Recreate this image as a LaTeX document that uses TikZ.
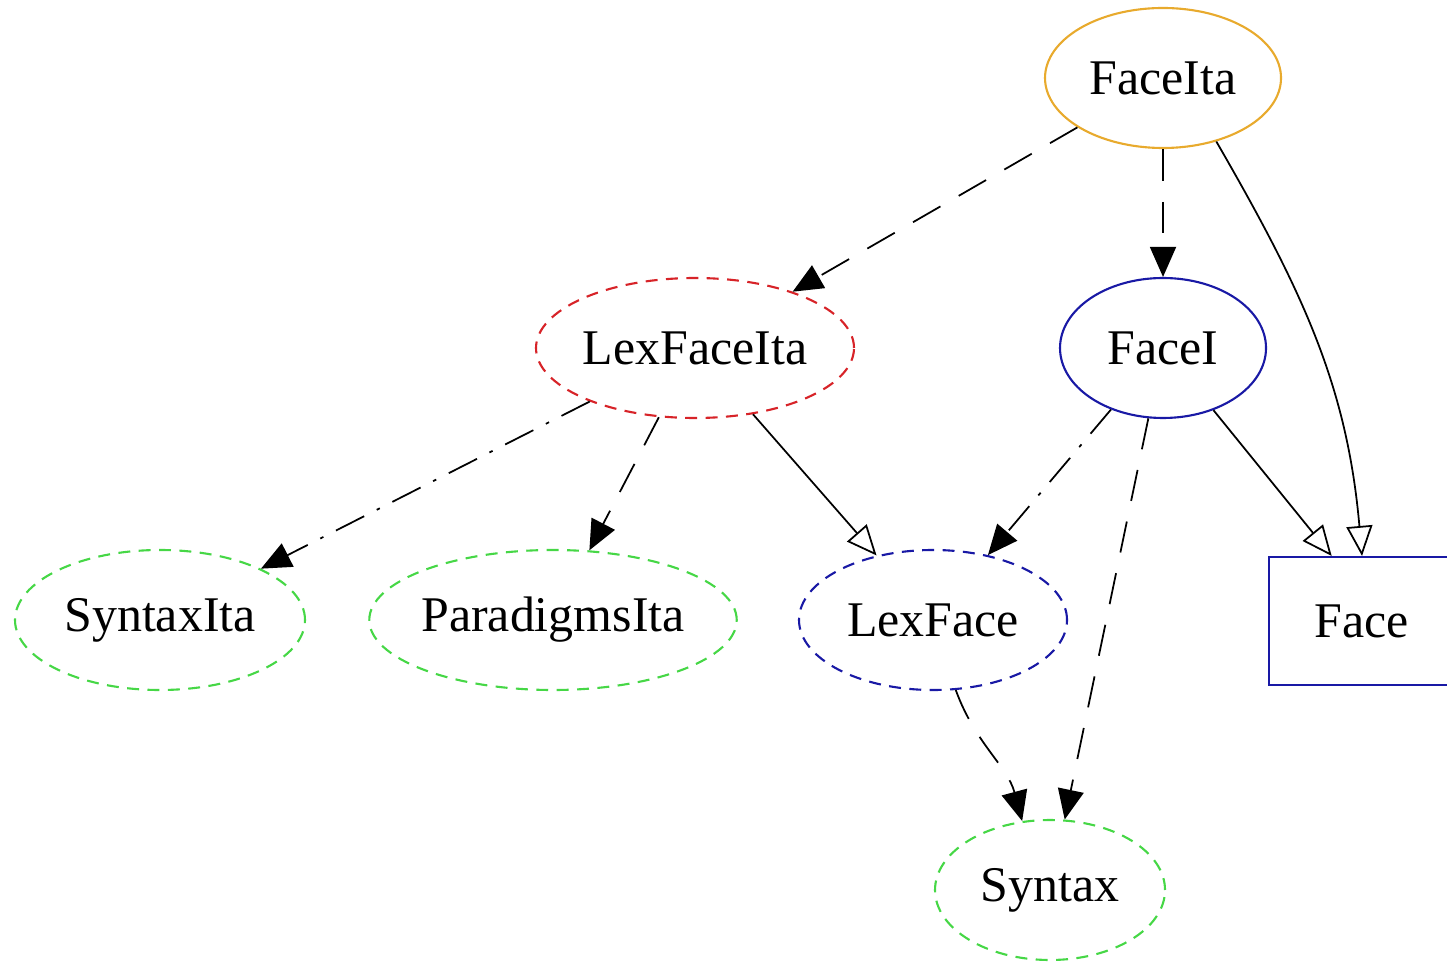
\documentclass[tikz,border=0pt]{standalone}
\usepackage{fontspec}
\setmainfont{Liberation Serif}
\usetikzlibrary{arrows.meta,shapes.geometric}

\definecolor{gvorange}{RGB}{232,170,45}
\definecolor{gvred}{RGB}{215,35,40}
\definecolor{gvblue}{RGB}{25,25,165}
\definecolor{gvgreen}{RGB}{70,215,70}

\begin{document}
\begin{tikzpicture}[
    oval/.style={ellipse, draw=#1, line width=0.6pt, inner sep=0pt,
                 minimum height=1.40cm},
    dashoval/.style={oval=#1, dash pattern=on 3.4pt off 2.4pt},
    every node/.style={font=\fontsize{14.2}{17}\selectfont},
    dep/.style={-{Triangle[length=0.30cm, width=0.26cm]}, line width=0.5pt,
                dash pattern=on 9pt off 6pt},
    depdot/.style={dep, dash pattern=on 9pt off 4pt on 1pt off 4pt},
    inh/.style={-{Triangle[open, length=0.30cm, width=0.26cm]}, line width=0.5pt}
  ]
  \useasboundingbox (0,0) rectangle (14.47,-9.65);
  \clip (0,0) rectangle (14.47,-9.65);

  %% ---- top rows ----
  \node[oval=gvorange, minimum width=2.36cm]      (faceita)      at (11.63,-0.78) {FaceIta};
  \node[dashoval=gvred, minimum width=3.18cm]     (lexfaceita)   at (6.95,-3.48)  {LexFaceIta};
  \node[oval=gvblue, minimum width=2.06cm]        (facei)        at (11.63,-3.48) {FaceI};

  %% ---- third row ----
  \node[dashoval=gvgreen, minimum width=2.90cm]   (syntaxita)    at (1.60,-6.20)  {SyntaxIta};
  \node[dashoval=gvgreen, minimum width=3.58cm,
        inner xsep=-0.5pt]                        (paradigmsita) at (5.53,-6.20)  {ParadigmsIta};
  \node[dashoval=gvblue, minimum width=2.68cm]    (lexface)      at (9.33,-6.20)  {LexFace};
  \node[draw=gvblue, line width=0.6pt, minimum width=1.86cm,
        minimum height=1.28cm, inner sep=0pt]     (face)         at (13.62,-6.21) {Face};

  %% ---- bottom ----
  \node[dashoval=gvgreen, minimum width=2.30cm]   (syntax)       at (10.50,-8.90) {Syntax};

  %% ---- edges ----
  \draw[dep]    (faceita)    -- (lexfaceita);
  \draw[dep]    (faceita)    -- (facei);
  \draw[inh]    (faceita.-50) to[out=-60, in=95] (face.north);

  \draw[depdot] (lexfaceita) -- (syntaxita);
  \draw[dep]    (lexfaceita) -- (paradigmsita);
  \draw[inh]    (lexfaceita) -- (lexface);

  \draw[depdot] (facei) -- (lexface);
  \draw[dep]    (facei) -- (syntax);
  \draw[inh]    (facei) -- (face.115);

  \draw[dep]    (lexface.-72) to[out=-70, in=105] (syntax.112);

\end{tikzpicture}
\end{document}
